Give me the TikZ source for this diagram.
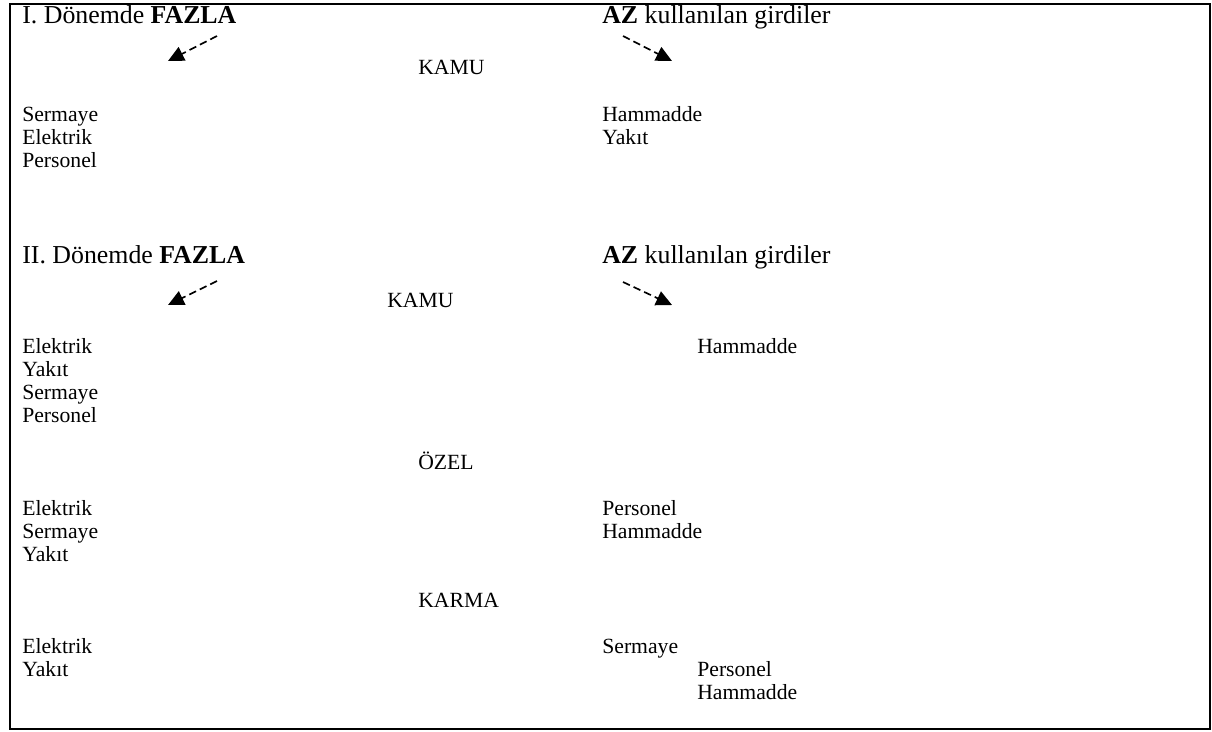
\documentclass[tikz,border=0pt]{standalone}
\usepackage{fontspec}
\setmainfont{Liberation Serif}
\usetikzlibrary{arrows.meta,positioning}

\begin{document}
\begin{tikzpicture}[x=0.6pt, y=-0.6pt, >={Triangle[length=9.5pt,width=9pt]},
    txt/.style={anchor=base west, inner sep=0pt, font=\fontsize{13}{15}\selectfont},
    baslik/.style={txt, font=\fontsize{15.5}{18}\selectfont},
    yon/.style={->, line width=1pt, dash pattern=on 4.5pt off 2.5pt}]
        \useasboundingbox (0,0) rectangle (1212,731);
        \draw[line width=1.2pt] (9.5,3.5) rectangle (1210,729);

        % I. donem
        \node[baslik] (fazla1) at (22,23) {I. Dönemde \textbf{FAZLA}};
        \node[baslik] (az1) at (602,23) {\textbf{AZ} kullanılan girdiler};
        \coordinate (f1s) at (217,36);
        \coordinate (f1e) at (168,61);
        \coordinate (a1s) at (623,36);
        \coordinate (a1e) at (672,61);
        \draw[yon] (f1s) -- (f1e);
        \draw[yon] (a1s) -- (a1e);
        \node[txt] (kamu1) at (418,74) {KAMU};
        \node[txt] (k1f1) at (22,121) {Sermaye};
        \node[txt] (k1f2) at (22,144) {Elektrik};
        \node[txt] (k1f3) at (22,167) {Personel};
        \node[txt] (k1a1) at (602,121) {Hammadde};
        \node[txt] (k1a2) at (602,144) {Yakıt};

        % II. donem
        \node[baslik] (fazla2) at (22,263) {II. Dönemde \textbf{FAZLA}};
        \node[baslik] (az2) at (602,263) {\textbf{AZ} kullanılan girdiler};
        \coordinate (f2s) at (217,281);
        \coordinate (f2e) at (168,305);
        \coordinate (a2s) at (623,282);
        \coordinate (a2e) at (672,305);
        \draw[yon] (f2s) -- (f2e);
        \draw[yon] (a2s) -- (a2e);
        \node[txt] (kamu2) at (387,307) {KAMU};
        \node[txt] (k2f1) at (22,353) {Elektrik};
        \node[txt] (k2f2) at (22,376) {Yakıt};
        \node[txt] (k2f3) at (22,399) {Sermaye};
        \node[txt] (k2f4) at (22,422) {Personel};
        \node[txt] (k2a1) at (697,353) {Hammadde};

        \node[txt] (ozel) at (418,469) {ÖZEL};
        \node[txt] (oz1) at (22,515) {Elektrik};
        \node[txt] (oz2) at (22,538) {Sermaye};
        \node[txt] (oz3) at (22,561) {Yakıt};
        \node[txt] (oza1) at (602,515) {Personel};
        \node[txt] (oza2) at (602,538) {Hammadde};

        \node[txt] (karma) at (418,607) {KARMA};
        \node[txt] (ka1) at (22,653) {Elektrik};
        \node[txt] (ka2) at (22,676) {Yakıt};
        \node[txt] (kaa1) at (602,653) {Sermaye};
        \node[txt] (kaa2) at (697,676) {Personel};
        \node[txt] (kaa3) at (697,699) {Hammadde};
    \end{tikzpicture}
\end{document}
